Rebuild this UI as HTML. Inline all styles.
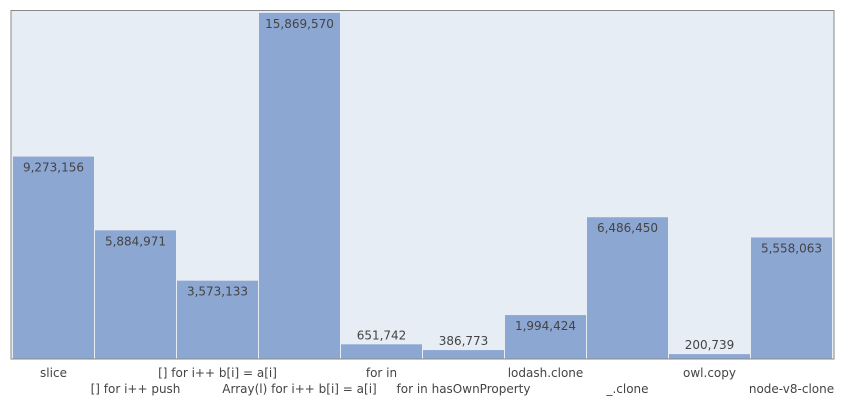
<!DOCTYPE html>
<html><head><meta charset="utf-8"><style>
body{margin:0;background:#fff;width:844px;height:400px;overflow:hidden}
svg{display:block;font-family:"DejaVu Sans","Liberation Sans",sans-serif}
</style></head><body>
<svg id="chart" width="844" height="400">
<rect x="11" y="10.5" width="823" height="348.5" fill="#e6edf5" stroke="#888" stroke-width="1"/>
<g id="bars"></g>
</svg>
<script>
const categories=["slice","[] for i++ push","[] for i++ b[i] = a[i]","Array(l) for i++ b[i] = a[i]","for in","for in hasOwnProperty","lodash.clone","_.clone","owl.copy","node-v8-clone"];
const values=[9273156,5884971,3573133,15869570,651742,386773,1994424,6486450,200739,5558063];
const yMax=15980000;
const x0=13,pitch=82,yBase=358.5,plotH=348;
function y(v){return yBase-v/yMax*plotH;}
function xb(i){return x0+i*pitch;}
const g=document.getElementById('bars');
const NS='http://www.w3.org/2000/svg';
values.forEach((v,i)=>{
  const r=document.createElementNS(NS,'rect');
  
  
  r.setAttribute('x',xb(i));r.setAttribute('y',y(v));
  r.setAttribute('width',pitch-1);r.setAttribute('height',yBase-y(v));
  r.setAttribute('fill','#8da7d3');
  g.appendChild(r);
  const t=document.createElementNS(NS,'text');
  
  
  const inside=(yBase-y(v))>30;
  t.setAttribute('x',xb(i)+(pitch-1)/2);
  t.setAttribute('y',inside?y(v)+15:y(v)-5);
  t.setAttribute('text-anchor','middle');t.setAttribute('font-size','12');t.setAttribute('fill','#444');
  t.textContent=v.toLocaleString('en-US');
  g.appendChild(t);
  const c=document.createElementNS(NS,'text');
  
  
  c.setAttribute('x',xb(i)+(pitch-1)/2);
  c.setAttribute('y',i%2===0?377:393);
  c.setAttribute('text-anchor','middle');c.setAttribute('font-size','12');c.setAttribute('fill','#444');
  c.textContent=categories[i];
  g.appendChild(c);
});
</script>
</body></html>
